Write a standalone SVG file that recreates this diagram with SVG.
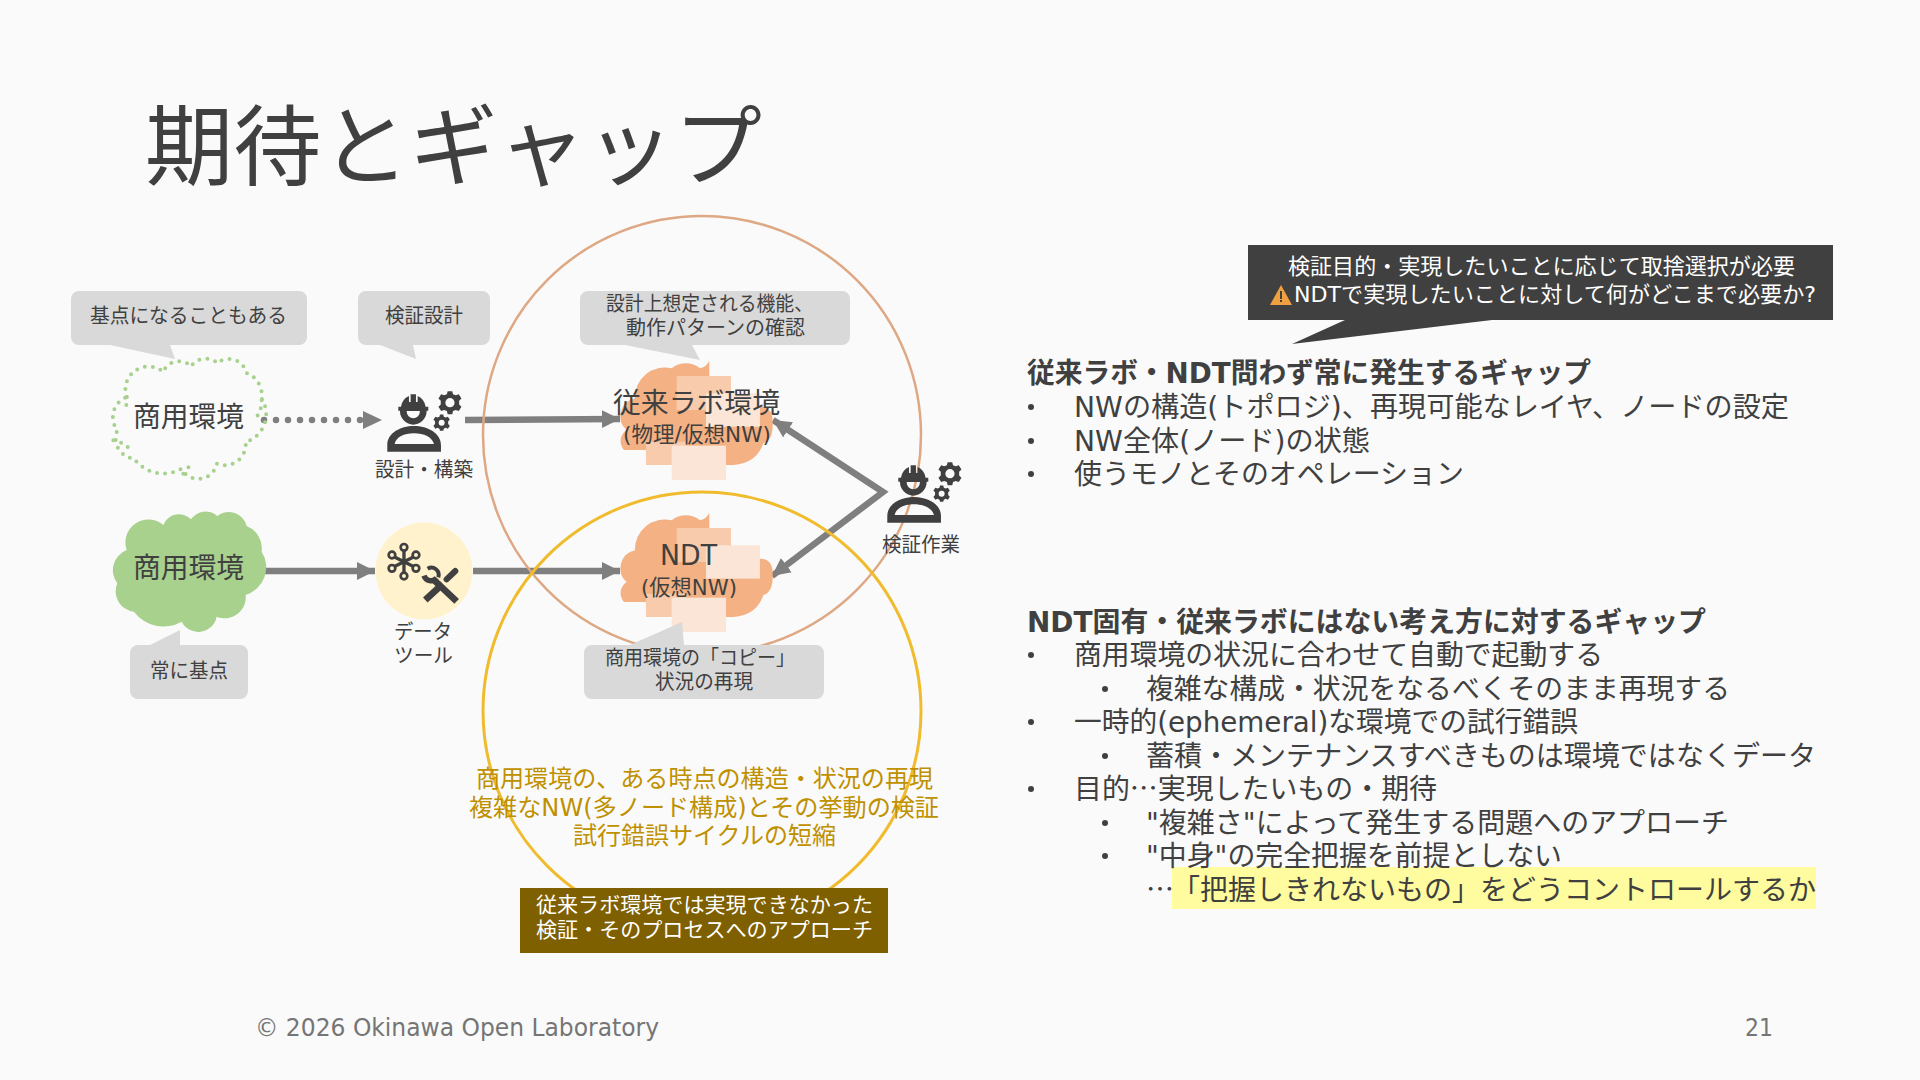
<svg xmlns="http://www.w3.org/2000/svg" xmlns:xlink="http://www.w3.org/1999/xlink" width="1920" height="1080" viewBox="0 0 1920 1080">
<style>
text{font-family:"DejaVu Sans","Noto Sans CJK JP",sans-serif;fill:#404040;font-weight:400}
.j{font-family:"Noto Sans CJK JP",sans-serif}
.b{font-size:28px}
.h{font-weight:700}
.c{font-size:20px}
.m{font-size:22px}
.y{font-size:24px;fill:#BF9000}
.w{font-size:21px;fill:#fff}
.f{font-size:24px;fill:#757575}
.call{fill:#D9D9D9}
.ar{fill:none;stroke:#7F7F7F;stroke-width:6.5}
.or{fill:#F4B183}.l1{fill:#F8CBAD}.l2{fill:#FBE5D6}
</style>
<defs>
<marker id="ah" markerUnits="userSpaceOnUse" markerWidth="20" markerHeight="20" refX="18" refY="9" orient="auto-start-reverse"><path d="M0,0L18,9L0,18Z" fill="#7F7F7F"/></marker>
<path id="cl" d="M200,180A69,69 0 0 1 310,105A50,50 0 0 1 393,88A53,53 0 0 1 472,78A55,55 0 0 1 560,108A72,72 0 0 1 605,185A87,87 0 0 1 557,315A63,63 0 0 1 470,380A56,56 0 0 1 365,395A110,110 0 0 1 222,365A61,61 0 0 1 172,280A65,65 0 0 1 200,180Z"/>
<g id="or" transform="scale(.3333)">
<path class="or" d="M432,540A40,40 0 0 1 440,480A55,55 0 0 1 465,385A89,89 0 0 1 575,295A67,67 0 0 1 660,295Q680,290 688,272L688,340L840,410Q880,410 878,460Q880,510 850,520Q830,580 760,585L498,585L498,540Z"/>
<rect class="l1" x="590" y="318" width="163" height="102"/>
<rect class="l2" x="678" y="370" width="162" height="100"/>
<rect class="l1" x="498" y="515" width="120" height="70"/>
<rect class="l2" x="575" y="527" width="163" height="103"/>
</g>
<path id="gear" d="M-6,-30H6L8,-22L15,-19L23,-22L30,-11L24,-5V5L30,11L23,22L15,19L8,22L6,30H-6L-8,22L-15,19L-23,22L-30,11L-24,5V-5L-30,-11L-23,-22L-15,-19L-8,-22Z"/>
<g id="worker" fill="#404040">
<path fill-rule="evenodd" d="M1015,422V410H1023A42,42 0 0 1 1047,378V396H1052V373H1068V396H1073V378A42,42 0 0 1 1097,410H1105V422H1100A40,42 0 0 1 1020,422ZM1040,423A20,22 0 0 0 1080,423Z"/>
<path fill-rule="evenodd" d="M982,545V525C982,490 1020,468 1062,468C1104,468 1143,490 1143,525V545ZM1004,522H1122C1117,502 1092,490 1062,490C1032,490 1008,502 1004,522Z"/>
<g transform="translate(1170,398) scale(1.15)"><use href="#gear"/><circle r="12" fill="#FAFAFA"/></g>
<g transform="translate(1145,458) scale(.82)"><use href="#gear"/><circle r="11" fill="#FAFAFA"/></g>
</g>
</defs>
<rect width="1920" height="1080" fill="#FAFAFA"/>
<text class="j" x="145" y="178" font-size="88" textLength="617" lengthAdjust="spacingAndGlyphs">期待とギャップ</text>

<g id="connectors">
<path class="ar" style="stroke-dasharray:0 12;stroke-linecap:round" d="M264,420H366"/>
<path d="M363,411L382,420L363,429Z" fill="#7F7F7F"/>
<path class="ar" marker-end="url(#ah)" d="M465,420L620,419"/>
<path class="ar" marker-end="url(#ah)" d="M262,571H375"/>
<path class="ar" marker-end="url(#ah)" d="M473,571H620"/>
<path class="ar" marker-start="url(#ah)" marker-end="url(#ah)" d="M773,420L883,492L772,576"/>
</g>

<g id="n-circles" fill="none">
<circle cx="702" cy="435" r="219" stroke="#DDA883" stroke-width="2.5"/>
<circle cx="702" cy="711" r="219" stroke="#F0BC2E" stroke-width="3"/>
</g>

<g id="n-cloud-dotted" transform="translate(60,337) scale(.3333)">
<use href="#cl" fill="none" stroke="#A9D18E" stroke-width="12" stroke-linecap="round" stroke-dasharray="0 24"/>
<path d="M160,310Q190,315 208,335M605,190Q605,230 580,250M200,180Q195,205 205,220M370,410Q380,395 392,385" fill="none" stroke="#A9D18E" stroke-width="12" stroke-linecap="round" stroke-dasharray="0 24"/>
</g>
<g id="n-cloud-solid" transform="translate(60,490) scale(.3333)"><use href="#cl" fill="#A9D18E"/></g>

<g id="n-call1"><path class="call" d="M79,291H299a8,8 0 0 1 8,8V337a8,8 0 0 1 -8,8H170L175,359L110,345H79a8,8 0 0 1 -8,-8V299a8,8 0 0 1 8,-8Z"/><text class="c" x="90" y="323" textLength="197" lengthAdjust="spacingAndGlyphs">基点になることもある</text></g>
<g id="n-call2"><path class="call" d="M366,291H482a8,8 0 0 1 8,8V337a8,8 0 0 1 -8,8H413L416,359L380,345H366a8,8 0 0 1 -8,-8V299a8,8 0 0 1 8,-8Z"/><text class="c" x="385" y="323" textLength="78" lengthAdjust="spacingAndGlyphs">検証設計</text></g>
<g id="n-call3"><path class="call" d="M588,291H842a8,8 0 0 1 8,8V337a8,8 0 0 1 -8,8H692L700,360L625,345H588a8,8 0 0 1 -8,-8V299a8,8 0 0 1 8,-8Z"/><text class="c" x="606" y="311" textLength="207" lengthAdjust="spacingAndGlyphs">設計上想定される機能、</text><text class="c" x="626" y="335" textLength="179" lengthAdjust="spacingAndGlyphs">動作パターンの確認</text></g>

<g id="n-lab" transform="translate(480,270)"><use href="#or"/></g>
<g id="n-ndt" transform="translate(480,422)"><use href="#or"/></g>
<g id="n-call5"><path class="call" d="M592,645H630L682,622L684,645H816a8,8 0 0 1 8,8V691a8,8 0 0 1 -8,8H592a8,8 0 0 1 -8,-8V653a8,8 0 0 1 8,-8Z"/><text class="c" x="605" y="665" textLength="190" lengthAdjust="spacingAndGlyphs">商用環境の「コピー」</text><text class="c" x="655" y="689" textLength="98" lengthAdjust="spacingAndGlyphs">状況の再現</text></g>
<g id="n-call4"><path class="call" d="M138,645H150L180,630V645H240a8,8 0 0 1 8,8V691a8,8 0 0 1 -8,8H138a8,8 0 0 1 -8,-8V653a8,8 0 0 1 8,-8Z"/><text class="c" x="150" y="678" textLength="78" lengthAdjust="spacingAndGlyphs">常に基点</text></g>

<g id="n-worker1" transform="translate(60,270) scale(.3333)"><use href="#worker"/></g>
<g id="n-worker2" transform="translate(560,341) scale(.3333)"><use href="#worker"/></g>

<g id="n-tool">
<circle cx="424" cy="571" r="48.5" fill="#FFF2CC"/>
<g transform="translate(60,490) scale(.3333)" fill="none" stroke="#404040">
<g stroke-width="8"><circle cx="1032" cy="172" r="10"/><circle cx="1068" cy="195" r="10"/><circle cx="1068" cy="235" r="10"/><circle cx="1032" cy="258" r="10"/><circle cx="996" cy="235" r="10"/><circle cx="996" cy="195" r="10"/></g>
<path stroke-width="10" d="M1032,180V250M1002,200L1062,230M1062,200L1002,230"/>
<path stroke-width="20" d="M1096,330L1148,282"/>
<path stroke-width="18" stroke-linecap="round" d="M1160,268L1186,243"/>
<path stroke-width="20" d="M1190,334L1120,268"/>
<path stroke-width="16" d="M1092,257A22,22 0 0 0 1130,264"/>
<path stroke-width="12" d="M1103,236A22,22 0 0 1 1135,262"/>
</g>
</g>

<g id="labels">
<text class="b" x="133" y="427" textLength="111" lengthAdjust="spacingAndGlyphs">商用環境</text>
<text class="b" x="133" y="578" textLength="111" lengthAdjust="spacingAndGlyphs">商用環境</text>
<text class="c" x="375" y="477" textLength="98" lengthAdjust="spacingAndGlyphs">設計・構築</text>
<text class="c" x="394" y="639" textLength="58" lengthAdjust="spacingAndGlyphs">データ</text>
<text class="c" x="394" y="663" textLength="59" lengthAdjust="spacingAndGlyphs">ツール</text>
<text class="c" x="882" y="552" textLength="78" lengthAdjust="spacingAndGlyphs">検証作業</text>
<text class="b" x="613" y="413" textLength="167" lengthAdjust="spacingAndGlyphs">従来ラボ環境</text>
<text class="m" x="623" y="442" textLength="148" lengthAdjust="spacingAndGlyphs">(物理/仮想NW)</text>
<text class="b" x="660" y="565" textLength="57" lengthAdjust="spacingAndGlyphs">NDT</text>
<text class="m" x="641" y="595" textLength="96" lengthAdjust="spacingAndGlyphs">(仮想NW)</text>
<text class="y" x="476" y="787" textLength="457" lengthAdjust="spacingAndGlyphs">商用環境の、ある時点の構造・状況の再現</text>
<text class="y" x="469" y="816" textLength="470" lengthAdjust="spacingAndGlyphs">複雑なNW(多ノード構成)とその挙動の検証</text>
<text class="y" x="573" y="844" textLength="263" lengthAdjust="spacingAndGlyphs">試行錯誤サイクルの短縮</text>
</g>

<g id="n-brown"><rect x="520" y="888" width="368" height="65" fill="#7F6000"/>
<text class="w" x="536" y="912" textLength="337" lengthAdjust="spacingAndGlyphs">従来ラボ環境では実現できなかった</text>
<text class="w" x="536" y="937" textLength="337" lengthAdjust="spacingAndGlyphs">検証・そのプロセスへのアプローチ</text></g>

<g id="n-dark"><path fill="#404040" d="M1248,245H1833V320H1492L1292,344L1345,320H1248Z"/>
<text class="w" style="font-size:22px" x="1288" y="274" textLength="507" lengthAdjust="spacingAndGlyphs">検証目的・実現したいことに応じて取捨選択が必要</text>
<path d="M1281,285L1292,305H1270Z" fill="#F0A040"/><rect x="1280" y="291" width="2" height="8" fill="#404040"/><rect x="1280" y="300" width="2" height="2" fill="#404040"/>
<text class="w" style="font-size:22px" x="1294" y="302" textLength="522" lengthAdjust="spacingAndGlyphs">NDTで実現したいことに対して何がどこまで必要か?</text></g>

<g id="list1">
<text class="b h" x="1027" y="383" textLength="564" lengthAdjust="spacingAndGlyphs">従来ラボ・NDT問わず常に発生するギャップ</text>
<circle cx="1031" cy="407" r="3" fill="#404040"/><text class="b" x="1074" y="417" textLength="715" lengthAdjust="spacingAndGlyphs">NWの構造(トポロジ)、再現可能なレイヤ、ノードの設定</text>
<circle cx="1031" cy="441" r="3" fill="#404040"/><text class="b" x="1074" y="451" textLength="296" lengthAdjust="spacingAndGlyphs">NW全体(ノード)の状態</text>
<circle cx="1031" cy="474" r="3" fill="#404040"/><text class="b" x="1074" y="484" textLength="390" lengthAdjust="spacingAndGlyphs">使うモノとそのオペレーション</text>
</g>
<g id="list2">
<rect x="1172" y="867" width="644" height="42" fill="#FFFB9F"/>
<text class="b h" x="1027" y="632" textLength="679" lengthAdjust="spacingAndGlyphs">NDT固有・従来ラボにはない考え方に対するギャップ</text>
<circle cx="1031" cy="655" r="3" fill="#404040"/><text class="b" x="1074" y="665" textLength="529" lengthAdjust="spacingAndGlyphs">商用環境の状況に合わせて自動で起動する</text>
<circle cx="1105" cy="689" r="3" fill="#404040"/><text class="b" x="1146" y="699" textLength="584" lengthAdjust="spacingAndGlyphs">複雑な構成・状況をなるべくそのまま再現する</text>
<circle cx="1031" cy="722" r="3" fill="#404040"/><text class="b" x="1074" y="732" textLength="504" lengthAdjust="spacingAndGlyphs">一時的(ephemeral)な環境での試行錯誤</text>
<circle cx="1105" cy="756" r="3" fill="#404040"/><text class="b" x="1146" y="766" textLength="670" lengthAdjust="spacingAndGlyphs">蓄積・メンテナンスすべきものは環境ではなくデータ</text>
<circle cx="1031" cy="789" r="3" fill="#404040"/><text class="b j" x="1074" y="799" textLength="363" lengthAdjust="spacingAndGlyphs">目的…実現したいもの・期待</text>
<circle cx="1105" cy="823" r="3" fill="#404040"/><text class="b" x="1146" y="833" textLength="583" lengthAdjust="spacingAndGlyphs">"複雑さ"によって発生する問題へのアプローチ</text>
<circle cx="1105" cy="856" r="3" fill="#404040"/><text class="b" x="1146" y="866" textLength="416" lengthAdjust="spacingAndGlyphs">"中身"の完全把握を前提としない</text>
<text class="b j" x="1146" y="900">…</text>
<text class="b" x="1172" y="900" textLength="644" lengthAdjust="spacingAndGlyphs">「把握しきれないもの」をどうコントロールするか</text>
</g>
<g id="footer">
<text class="f" x="255" y="1036" textLength="404" lengthAdjust="spacingAndGlyphs">© 2026 Okinawa Open Laboratory</text>
<text class="f" x="1745" y="1036" textLength="28" lengthAdjust="spacingAndGlyphs">21</text>
</g>
</svg>
